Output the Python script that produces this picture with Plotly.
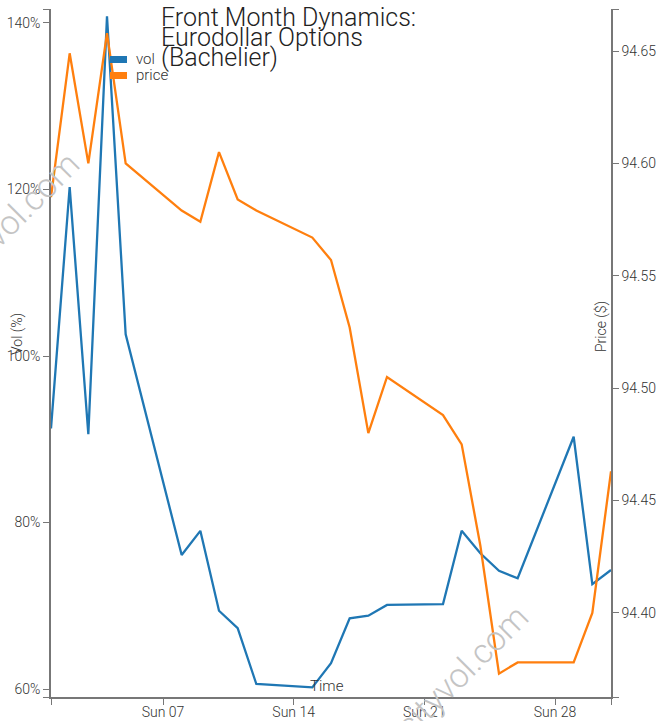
import plotly.graph_objects as go

# ---- data ----
dates = ["2023-05-01", "2023-05-02", "2023-05-03", "2023-05-04", "2023-05-05",
         "2023-05-08", "2023-05-09", "2023-05-10", "2023-05-11", "2023-05-12",
         "2023-05-15", "2023-05-16", "2023-05-17", "2023-05-18", "2023-05-19",
         "2023-05-22", "2023-05-23", "2023-05-24", "2023-05-25", "2023-05-26",
         "2023-05-29", "2023-05-30", "2023-05-31"]
vol = [91.3, 120.3, 90.6, 140.8, 102.6,
       76.1, 79.0, 69.4, 67.3, 60.6,
       60.2, 63.1, 68.5, 68.8, 70.1,
       70.2, 79.0, 76.3, 74.2, 73.3,
       90.3, 72.6, 74.3]
price = [94.585, 94.649, 94.600, 94.658, 94.600,
         94.579, 94.574, 94.605, 94.584, 94.579,
         94.567, 94.557, 94.527, 94.480, 94.505,
         94.488, 94.475, 94.430, 94.373, 94.378,
         94.378, 94.400, 94.463]

x_tick_vals = ["2023-05-01", "2023-05-07", "2023-05-14", "2023-05-21", "2023-05-28", "2023-05-31"]
x_tick_text = ["", "Sun 07", "Sun 14", "Sun 21", "Sun 28", ""]
vol_range = [59.04, 141.68]
vol_tick_vals = [59.04, 60, 80, 100, 120, 140, 141.68]
vol_tick_text = ["", "60%", "80%", "100%", "120%", "140%", ""]
price_range = [94.3626, 94.6687]
price_tick_vals = [94.3626, 94.40, 94.45, 94.50, 94.55, 94.60, 94.65, 94.6687]
price_tick_text = ["", "94.40", "94.45", "94.50", "94.55", "94.60", "94.65", ""]

title_lines = ["Front Month Dynamics:", "Eurodollar Options", "(Bachelier)"]
series_names = ["vol", "price"]
colors = ["#1f77b4", "#ff7f0e"]
watermark = "cityvol.com"

FONT = "Roboto"
AXIS_COLOR = "#777777"
TEXT_COLOR = "#333333"

fig = go.Figure()
fig.add_trace(go.Scatter(x=dates, y=vol, mode="lines", name=series_names[0],
                         line=dict(color=colors[0], width=2.3), yaxis="y"))
fig.add_trace(go.Scatter(x=dates, y=price, mode="lines", name=series_names[1],
                         line=dict(color=colors[1], width=2.3), yaxis="y2"))

axis_common = dict(showgrid=False, zeroline=False, showline=True, linecolor=AXIS_COLOR,
                   linewidth=1.5, ticks="outside", ticklen=6, tickcolor=AXIS_COLOR,
                   tickwidth=1.2, automargin=False,
                   tickfont=dict(family=FONT, size=14, color=TEXT_COLOR, weight=300))

fig.update_layout(
    width=666, height=721,
    margin=dict(l=51, r=55, t=9, b=24, autoexpand=False),
    paper_bgcolor="white", plot_bgcolor="white",
    showlegend=False,
    hovermode=False,
    xaxis=dict(type="date", range=["2023-05-01", "2023-05-31"],
               tickmode="array", tickvals=x_tick_vals, ticktext=x_tick_text,
               ticklabelstandoff=-5, **axis_common),
    yaxis=dict(range=vol_range, tickmode="array", tickvals=vol_tick_vals,
               ticktext=vol_tick_text, side="left", **axis_common),
    yaxis2=dict(range=price_range, tickmode="array", tickvals=price_tick_vals,
                ticktext=price_tick_text, side="right", overlaying="y",
                anchor="x", **axis_common),
)

def px_x(px):
    return (px - 51) / 560.0

def px_y(py):
    return (697 - py) / 688.0

annotations = []
# title lines
for line, cy in zip(title_lines, [17.5, 37.5, 57.5]):
    annotations.append(dict(text=line, xref="paper", yref="paper", x=px_x(159), y=px_y(cy),
                            xanchor="left", yanchor="middle", showarrow=False,
                            font=dict(family=FONT, size=25, color="#222222", weight=300)))
# legend text
for name, cy in zip(series_names, [59.5, 74.5]):
    annotations.append(dict(text=name, xref="paper", yref="paper", x=px_x(134), y=px_y(cy),
                            xanchor="left", yanchor="middle", showarrow=False,
                            font=dict(family=FONT, size=15, color=TEXT_COLOR, weight=300)))
# axis titles
annotations.append(dict(text="Vol (%)", xref="paper", yref="paper", x=px_x(18), y=px_y(334),
                        xanchor="center", yanchor="middle", textangle=-90, showarrow=False,
                        font=dict(family=FONT, size=14, color=TEXT_COLOR, weight=300)))
annotations.append(dict(text="Price ($)", xref="paper", yref="paper", x=px_x(601), y=px_y(327),
                        xanchor="center", yanchor="middle", textangle=-90, showarrow=False,
                        font=dict(family=FONT, size=14, color=TEXT_COLOR, weight=300)))
annotations.append(dict(text="Time", xref="paper", yref="paper", x=px_x(327), y=px_y(686),
                        xanchor="center", yanchor="middle", showarrow=False,
                        font=dict(family=FONT, size=15, color=TEXT_COLOR, weight=300)))
# watermarks
for cx, cy in [(13, 218), (462, 671)]:
    annotations.append(dict(text=watermark, xref="paper", yref="paper", x=px_x(cx), y=px_y(cy),
                            xanchor="center", yanchor="middle", textangle=-45, showarrow=False,
                            font=dict(family=FONT, size=34, color="#c4c4c4", weight=300)))
fig.update_layout(annotations=annotations)

# legend swatches
shapes = []
for col, (y0, y1) in zip(colors, [(56, 63), (72, 79)]):
    shapes.append(dict(type="rect", xref="paper", yref="paper",
                       x0=px_x(110), x1=px_x(127), y0=px_y(y1), y1=px_y(y0),
                       fillcolor=col, line=dict(width=0)))
fig.update_layout(shapes=shapes)

fig.write_html("out.html", config={"displayModeBar": False},
               post_script="document.body.style.margin='0';document.body.style.overflow='hidden';")
